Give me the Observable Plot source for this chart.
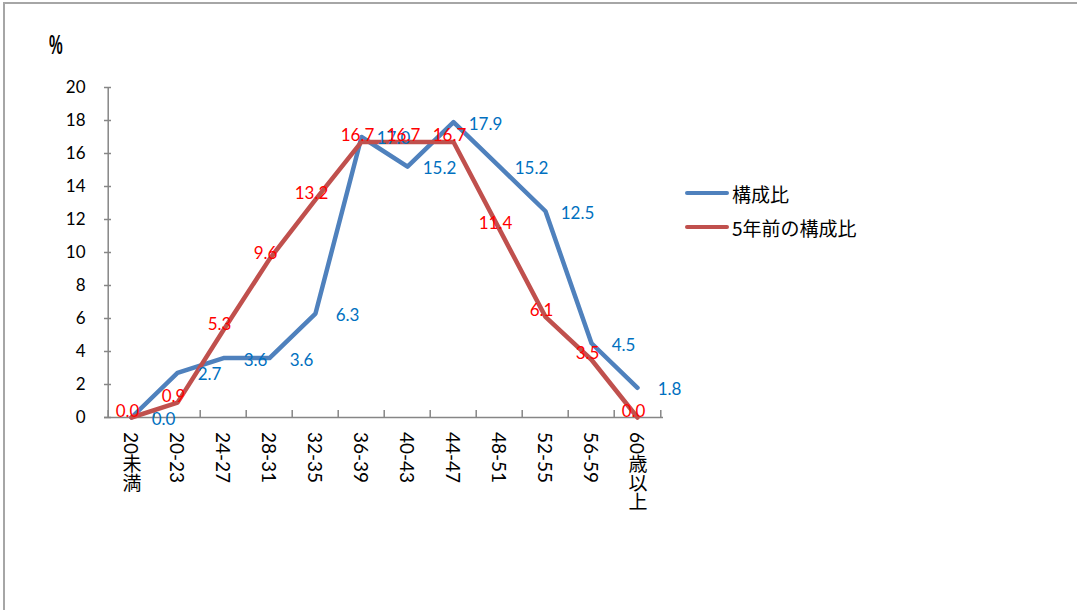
<!DOCTYPE html>
<html>
<head>
<meta charset="utf-8">
<script src="https://cdn.jsdelivr.net/npm/d3@7"></script>
<script src="https://cdn.jsdelivr.net/npm/@observablehq/plot@0.6"></script>
<style>
  html, body { margin: 0; padding: 0; background: #fff; }
  #wrap { position: relative; width: 1077px; height: 610px; overflow: hidden; }
  #frame { position: absolute; left: 3px; top: 2px; right: 0; bottom: 0;
           border-top: 2px solid #a6a6a6; border-left: 2px solid #a6a6a6; }
  #chart { position: absolute; left: 0; top: 0; }
  #legend { position: absolute; left: 685px; top: 176px; font-family: "Noto Sans CJK JP", sans-serif; font-size: 19px; color: #000; }
  .item { display: flex; align-items: center; height: 34px; }
  .swatch { width: 44px; height: 4px; border-radius: 2px; margin-right: 3px; }
  #unit { position: absolute; left: 49px; top: 29px; font-family: "Liberation Sans", sans-serif; font-weight: bold; font-size: 28px;
          transform: scaleX(0.55); transform-origin: left top; }
  .xlab { position: absolute; top: 432px; writing-mode: vertical-rl; text-orientation: mixed;
          font-family: Lato, "Noto Sans CJK JP", sans-serif; font-size: 19px; line-height: 1; color: #000;
          transform: translateX(-50%); white-space: nowrap; }
</style>
</head>
<body>
<div id="wrap">
  <div id="frame"></div>
  <div id="chart"></div>
  <div id="unit">%</div>
  <div id="legend"></div>
</div>
<script>
const categories = ["20未満","20-23","24-27","28-31","32-35","36-39","40-43","44-47","48-51","52-55","56-59","60歳以上"];
const current = [0.0, 2.7, 3.6, 3.6, 6.3, 17.0, 15.2, 17.9, 15.2, 12.5, 4.5, 1.8];
const previous = [0.0, 0.9, 5.3, 9.6, 13.2, 16.7, 16.7, 16.7, 11.4, 6.1, 3.5, 0.0];
const seriesNames = ["構成比", "5年前の構成比"];
const yTicks = [0, 2, 4, 6, 8, 10, 12, 14, 16, 18, 20];

const colors = ["#4F81BD", "#C0504D"];
const labelColors = ["#0070C0", "#FF0000"];

const W = 1077, H = 610;
const mL = 104, mR = 414, mT = 87, mB = 193;
const innerW = W - mL - mR;
const step = innerW / categories.length;
const axisGray = "#868686";
const font = "Lato, 'Noto Sans CJK JP', sans-serif";

const rows = [];
categories.forEach((c, i) => {
  rows.push({cat: c, value: current[i], series: seriesNames[0]});
  rows.push({cat: c, value: previous[i], series: seriesNames[1]});
});
const curRows = rows.filter(d => d.series === seriesNames[0]);
const prevRows = rows.filter(d => d.series === seriesNames[1]);

const plot = Plot.plot({
  width: W, height: H,
  marginLeft: mL, marginRight: mR, marginTop: mT, marginBottom: mB,
  style: {fontFamily: font, fontSize: "16px", background: "transparent", overflow: "visible"},
  x: {type: "point", domain: categories, padding: 0.5, axis: null},
  y: {domain: [0, 20], axis: null},
  marks: [
    // y axis line and inward ticks
    Plot.ruleX([categories[0]], {x: d => d, y1: 0, y2: 20, dx: -step / 2, stroke: axisGray, strokeWidth: 1.5}),
    Plot.ruleY(yTicks, {y: d => d, insetRight: innerW - 7, stroke: axisGray, strokeWidth: 1.5}),
    Plot.text(yTicks, {y: d => d, frameAnchor: "left", dx: -19, textAnchor: "end", fill: "#000", fontSize: 17}),
    // x axis line and inward boundary ticks
    Plot.ruleY([0], {stroke: axisGray, strokeWidth: 1.5}),
    Plot.ruleX(categories, {x: d => d, y1: 0, y2: 0, dx: -step / 2, insetTop: -7, stroke: axisGray, strokeWidth: 1.5}),
    Plot.ruleX([categories[categories.length - 1]], {x: d => d, y1: 0, y2: 0, dx: step / 2, insetTop: -7, stroke: axisGray, strokeWidth: 1.5}),
    // lines
    Plot.line(curRows, {x: "cat", y: "value", stroke: colors[0], strokeWidth: 4.5, strokeLinejoin: "round", strokeLinecap: "round"}),
    Plot.line(prevRows, {x: "cat", y: "value", stroke: colors[1], strokeWidth: 4.5, strokeLinejoin: "round", strokeLinecap: "round"}),
    // data labels
    Plot.text(curRows, {x: "cat", y: "value", text: d => d.value.toFixed(1), dx: 32, dy: 2, fill: labelColors[0], fontSize: 17}),
    Plot.text(prevRows, {x: "cat", y: "value", text: d => d.value.toFixed(1), dx: -4, dy: -6, fill: labelColors[1], fontSize: 17})
  ]
});
document.getElementById("chart").appendChild(plot);

// x labels: vertical text (CJK upright, digits rotated), positioned by the plot's x scale
const xScale = plot.scale("x");
const wrap = d3.select("#wrap");
categories.forEach(c => {
  wrap.append("div").attr("class", "xlab")
    .style("left", xScale.apply(c) + "px")
    .text(c);
});

// legend
const legend = d3.select("#legend");
seriesNames.forEach((name, i) => {
  const it = legend.append("div").attr("class", "item");
  it.append("div").attr("class", "swatch").style("background", colors[i]);
  it.append("span").text(name);
});
</script>
</body>
</html>
